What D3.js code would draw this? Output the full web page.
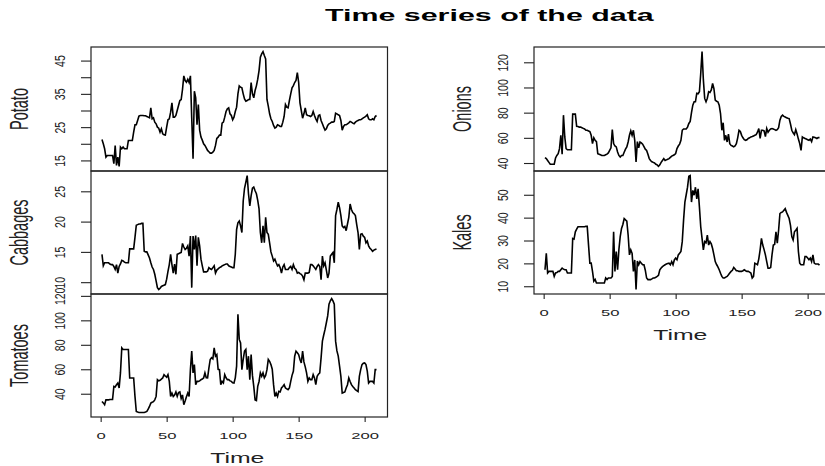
<!DOCTYPE html>
<html><head><meta charset="utf-8">
<script src="https://cdn.jsdelivr.net/npm/d3@7"></script>
<style>body{margin:0;background:#fff} svg{display:block}</style>
</head><body>
<svg id="c" width="825" height="466"></svg>
<script>
// ---------- data (weekly prices, t = 1..209) ----------
const potato = [
21.3,20,18.5,16,16.5,16.5,16.5,16.5,16.5,14,
19.5,13.5,16,13.2,19,18.5,19,18.5,18.5,18.5,
21,21,21,21,23.5,25.7,25.7,27,28.3,28.5,
28.5,28.5,28.4,28.4,28.2,28,27.8,30.8,27.5,27.8,
26.5,26,25,24.7,23.5,24.5,23,22.7,22.6,25,
27.2,27.5,29.5,32.3,28,28,28.5,30,31.5,33,
33.3,36.3,40.4,39,38.5,39.4,38.4,40.4,27.7,15.5,
35.8,33.8,25.7,31.8,24.1,22,21.1,20,19.5,18.8,
18,17.6,17.2,17.2,17.5,18,19.5,21.6,22,22.6,
22.6,26.2,26.5,28,29.7,30.5,30.8,29,28.5,27.2,
28,29.7,31,35,37.4,37,36.8,35,33.5,32.8,
33,33.3,33.3,38.4,35,33.8,36,37.4,39.4,42,
46,47,47.7,46.5,45.5,33.3,31.3,29,27.5,26.7,
25.5,24.7,25,25.7,25.5,25.2,25.2,26.5,28.2,31.8,
31,30.8,33,35,36.8,37.5,38.4,39,41.4,38.5,
32.3,30,27.7,29,30.8,28.7,28.5,28.4,28.2,28.5,
29.7,28.5,27.5,26.7,28.5,28.7,27,26,25,24.1,
24.5,25.5,26,26.2,26.5,26.5,26.7,29.2,29,28.7,
28.5,27,24.1,25.2,25.7,25.7,26,26.3,26.7,26.5,
26.2,26,26.5,26.8,27,27.2,27.2,27.5,27.8,28,
28.3,28.7,27.5,27.2,27.2,27.5,27.2,28.2,28.5];

const cabbages = [
14.6,12.7,13.2,13.2,13.2,13.2,13.0,12.9,12.9,12.6,
12.1,12.9,11.5,12.6,13.0,13.6,13.5,13.3,13.2,13.2,
13.2,15.5,15.5,15.5,15.5,17.4,19.4,19.5,19.6,19.6,
19.7,19.7,15.1,15.0,15.0,14.5,14.0,13.2,12.5,12.1,
11.3,10.2,9.1,8.8,9.0,9.3,9.4,9.5,9.6,10.5,
11.8,12.9,14.6,12.9,11.5,13.0,11.3,14.6,14.7,14.8,
14.9,16.4,15.8,15.4,15.6,16.0,14.3,17.6,9.1,17.6,
15.4,17.7,12.7,17.4,16.0,13.8,12.7,11.7,11.7,11.7,
11.8,12.4,12.2,12.1,12.4,12.7,11.5,12.0,12.2,12.4,
12.5,12.7,12.8,12.9,13.0,13.0,12.7,12.6,12.5,12.4,
12.4,14.6,18.7,19.8,20.1,19.3,18.2,23.4,25.5,26.5,
27.6,24.6,22.6,24.3,25.5,25.7,25.1,24.6,23.5,22.1,
18.2,16.5,19.3,16.5,20.7,18.2,17.9,16.5,15.0,14.3,
13.5,13.8,13.2,12.7,12.9,12.4,11.5,12.5,12.9,12.1,
12.1,12.1,12.4,12.6,12.1,12.9,12.3,12.1,11.5,11.6,
11.4,11.3,11.0,10.4,11.5,11.5,11.5,11.6,12.9,12.9,
12.7,12.4,12.1,12.6,12.9,12.6,10.4,14.3,12.7,13.2,
12.0,10.7,11.5,14.3,14.6,14.9,13.2,21.0,22.0,23.2,
22.3,21.0,19.3,19.0,19.2,18.5,19.6,20.7,22.9,22.0,
21.5,21.3,21.0,19.5,18.2,15.4,17.9,18.0,17.6,17.4,
16.5,16.8,16.0,15.6,15.4,15.1,15.3,15.4,15.5];

const tomatoes = [
33.7,32.5,31.0,35.0,35.0,35.0,35.3,35.3,35.3,46.0,
45.5,47.4,48.8,44.7,57.0,77.5,76.2,76.2,76.2,76.2,
76.2,52.9,52.9,52.9,52.9,37.8,25.5,25.0,24.7,24.7,
24.7,24.7,24.7,25.0,25.5,27.5,29.6,32.3,33.0,33.5,
35.0,37.8,51.5,50.5,51.0,52.0,52.9,55.6,54.5,53.5,
55.6,50.1,37.8,40.5,37.8,39.0,41.5,37.8,41.0,41.5,
36.0,39.0,31.0,34.0,37.5,40.5,37.8,59.7,74.8,57.0,
63.8,47.4,50.1,50.1,50.5,51.5,52.0,52.9,57.0,53.0,
52.9,61.0,68.0,69.5,68.5,77.5,70.7,72.0,60.0,59.7,
47.4,50.1,48.8,55.6,53.0,51.5,51.5,50.5,50.1,49.0,
48.8,53.0,62.5,104.9,84.4,81.6,59.7,68.0,74.8,76.2,
59.7,70.7,51.5,72.0,55.0,46.0,35.0,34.5,46.0,50.0,
57.0,54.2,57.0,53.0,55.0,59.7,68.0,66.5,63.8,60.0,
47.4,37.8,40.5,37.8,42.0,41.5,44.7,46.0,47.4,44.7,
44.0,43.3,44.7,50.1,55.0,58.4,70.7,74.8,73.5,72.0,
68.0,65.2,74.8,66.0,62.0,57.0,50.1,52.9,51.5,51.5,
55.6,52.9,47.4,54.2,56.0,57.0,69.3,83.0,88.0,92.6,
98.0,103.6,113.2,116.0,117.8,115.9,113.2,83.0,75.0,70.7,
62.5,54.2,40.5,41.0,41.5,44.7,47.4,52.9,50.0,47.4,
46.0,44.7,43.3,42.5,41.8,54.2,59.7,63.8,65.0,65.2,
63.8,58.5,48.8,50.1,50.1,50.1,48.8,59.7,59.7];

const onions = [
44.3,43.5,42.0,40.5,39.0,39.0,39.0,39.0,44.0,46.0,
47.4,51.4,62.0,47.0,78.0,60.7,51.4,50.5,50.5,50.5,
50.5,78.8,78.8,78.8,69.2,69.0,68.5,68.5,68.0,67.5,
67.0,66.0,66.0,65.5,65.0,62.0,55.4,60.0,58.0,57.0,
47.4,47.0,46.5,46.0,46.0,46.0,46.5,47.0,48.0,50.0,
52.0,66.6,55.4,53.5,52.8,48.8,46.0,44.8,46.0,46.0,
48.5,51.0,52.8,56.7,62.0,65.5,62.0,66.0,58.0,40.8,
57.0,52.0,56.7,56.0,55.0,53.0,51.0,50.0,47.0,43.5,
42.0,41.0,40.5,40.0,39.0,38.5,37.3,38.5,40.5,42.0,
43.5,42.0,42.5,43.0,43.5,44.5,45.5,46.0,46.5,47.5,
51.5,53.5,55.0,58.0,66.0,67.0,67.0,67.0,68.5,71.4,
73.0,80.0,86.0,88.6,88.6,95.3,95.0,96.6,111.0,128.5,
106.0,91.3,88.6,91.5,96.6,96.0,98.0,103.3,99.0,90.0,
89.0,88.6,86.0,79.3,66.0,72.0,58.0,62.0,56.7,63.0,
55.4,54.0,53.5,52.8,53.5,55.4,60.0,66.0,65.0,62.0,
60.0,58.5,58.0,58.5,59.5,60.0,60.7,61.0,61.5,62.0,
62.5,64.5,67.4,59.5,66.0,66.0,65.5,61.0,67.4,64.5,
66.0,67.0,67.4,67.0,66.5,66.0,66.5,68.0,74.0,77.0,
78.0,77.0,76.5,76.0,75.5,75.3,71.0,66.0,64.0,62.5,
66.5,63.0,59.0,55.4,50.0,60.7,60.0,59.5,59.0,58.5,
58.0,59.0,57.0,60.7,60.5,60.0,59.5,60.2,60.2];

const kales = [
17.2,24.4,15.8,16.5,16.5,16.5,16.5,14.3,15.8,16.0,
16.5,16.5,17.2,17.9,17.5,17.2,17.2,15.8,15.8,15.8,
15.8,30.9,30.6,33.8,35.0,36.0,36.0,36.0,36.0,36.0,
36.0,36.2,36.2,28.0,20.1,20.1,16.5,12.2,13.0,11.4,
11.4,11.4,11.4,11.4,11.4,11.4,13.6,12.9,13.6,13.6,
13.6,14.3,33.8,16.5,25.2,17.2,26.0,31.7,35.3,37.0,
39.6,39.0,38.5,32.4,23.7,25.9,24.4,16.5,21.5,8.6,
21.0,19.4,20.8,20.1,19.4,19.4,17.0,13.6,12.9,12.9,
12.9,13.2,13.6,13.6,13.9,14.3,14.8,17.2,18.0,18.6,
19.0,19.4,19.7,19.9,20.1,19.4,20.8,19.4,21.5,22.3,
21.6,23.7,24.4,25.2,29.5,38.9,46.8,50.0,53.3,58.1,
58.4,46.8,51.9,49.8,53.3,48.2,52.6,44.7,36.0,30.9,
25.9,29.5,29.0,32.4,28.0,29.5,28.5,26.5,23.7,20.8,
19.5,18.5,17.2,15.7,14.3,13.6,13.6,14.0,14.3,15.0,
15.8,16.5,17.0,18.2,17.5,16.8,16.8,16.5,16.5,16.5,
16.8,17.2,16.8,16.5,16.5,16.2,15.8,13.6,14.3,20.1,
19.8,19.4,22.0,25.9,30.9,28.0,26.0,23.7,20.8,17.9,
17.9,18.2,23.7,28.0,28.3,33.8,28.8,34.5,41.8,42.3,
42.5,43.2,43.9,42.3,41.0,39.6,36.6,31.7,30.2,33.8,
34.5,35.3,25.2,20.1,19.4,19.4,19.4,23.0,23.0,22.3,
21.6,22.3,20.8,23.7,20.1,19.7,19.7,19.7,19.2];

const seriesNames = ["Potato","Cabbages","Tomatoes","Onions","Kales"];
const xTicks = [0,50,100,150,200];
const potatoTicks = [15,20,25,30,35,40,45];
const potatoTickLabels = ["15","","25","","35","","45"];
const cabbagesTicks = [10,15,20,25];
const tomatoesTicks = [40,60,80,100,120];
const onionsTicks = [40,60,80,100,120];
const kalesTicks = [10,20,30,40,50];
const titleText = "Time series of the data";
const xLabel = "Time";

// ---------- drawing ----------
const svg = d3.select("#c");
const FONT = "'Liberation Sans', Arial, Helvetica, sans-serif";

const cols = [[91, 387.5], [534, 830.5]];
const rows = [[47, 171], [171, 294], [294, 417]];

const panels = [
  {name: seriesNames[0], data: potato,   ticks: potatoTicks,   labels: potatoTickLabels, col: 0, row: 0},
  {name: seriesNames[1], data: cabbages, ticks: cabbagesTicks, labels: cabbagesTicks.map(String), col: 0, row: 1},
  {name: seriesNames[2], data: tomatoes, ticks: tomatoesTicks, labels: tomatoesTicks.map(String), col: 0, row: 2, bottom: true},
  {name: seriesNames[3], data: onions,   ticks: onionsTicks,   labels: onionsTicks.map(String), col: 1, row: 0},
  {name: seriesNames[4], data: kales,    ticks: kalesTicks,    labels: kalesTicks.map(String), col: 1, row: 1, bottom: true}
];

panels.forEach(p => {
  const [x0, x1] = cols[p.col];
  const [top, bot] = rows[p.row];
  const n = p.data.length;
  const xpad = 0.04 * (n - 1);
  const x = d3.scaleLinear().domain([1 - xpad, n + xpad]).range([x0, x1]);
  const ext = d3.extent(p.data);
  const ypad = 0.04 * (ext[1] - ext[0]);
  const y = d3.scaleLinear().domain([ext[0] - ypad, ext[1] + ypad]).range([bot, top]);

  // series line
  svg.append("path")
    .datum(p.data)
    .attr("fill", "none")
    .attr("stroke", "#000")
    .attr("stroke-width", 1.6)
    .attr("stroke-linejoin", "miter")
    .attr("d", d3.line().x((d, i) => x(i + 1)).y(d => y(d)));

  // panel box
  svg.append("rect")
    .attr("x", x0).attr("y", top)
    .attr("width", x1 - x0).attr("height", bot - top)
    .attr("fill", "none").attr("stroke", "#222").attr("stroke-width", 1.2);

  // y axis
  const gy = svg.append("g")
    .attr("transform", `translate(${x0},0)`)
    .call(d3.axisLeft(y).tickValues(p.ticks).tickSize(10)
      .tickFormat((d, i) => p.labels[i]));
  gy.select(".domain").remove();
  gy.selectAll(".tick line").attr("stroke", "#222").attr("stroke-width", 1.1);
  gy.selectAll(".tick text")
    .attr("x", null).attr("dy", null)
    .attr("fill", "#222")
    .attr("font-family", FONT).attr("font-size", 10.5)
    .attr("text-anchor", "middle")
    .attr("transform", "translate(-26,0) scale(1.35,1) rotate(-90)");

  // y axis title
  svg.append("text")
    .attr("transform", `translate(${x0 - 63},${(top + bot) / 2}) scale(1.73,1) rotate(-90)`)
    .attr("text-anchor", "middle")
    .attr("font-family", FONT).attr("font-size", 14.5)
    .attr("fill", "#222")
    .text(p.name);

  if (p.bottom) {
    const gx = svg.append("g")
      .attr("transform", `translate(0,${bot})`)
      .call(d3.axisBottom(x).tickValues(xTicks).tickSize(5).tickFormat(d3.format("d")));
    gx.select(".domain").remove();
    gx.selectAll(".tick line").attr("stroke", "#222").attr("stroke-width", 1.1);
    gx.selectAll(".tick text")
      .attr("y", null).attr("dy", null)
      .attr("fill", "#222")
      .attr("font-family", FONT).attr("font-size", 9.5)
      .attr("text-anchor", "middle")
      .attr("transform", "translate(0,21.5) scale(1.75,1)");

    svg.append("text")
      .attr("transform", `translate(${(x0 + x1) / 2 - 2},${bot + 45.5}) scale(1.6,1)`)
      .attr("text-anchor", "middle")
      .attr("font-family", FONT).attr("font-size", 15.5)
      .attr("fill", "#222")
      .text(xLabel);
  }
});

// main title
svg.append("text")
  .attr("transform", "translate(325,21) scale(1.9,1)")
  .attr("font-family", FONT).attr("font-size", 16).attr("font-weight", "bold")
  .attr("fill", "#000")
  .text(titleText);
</script>
</body></html>
